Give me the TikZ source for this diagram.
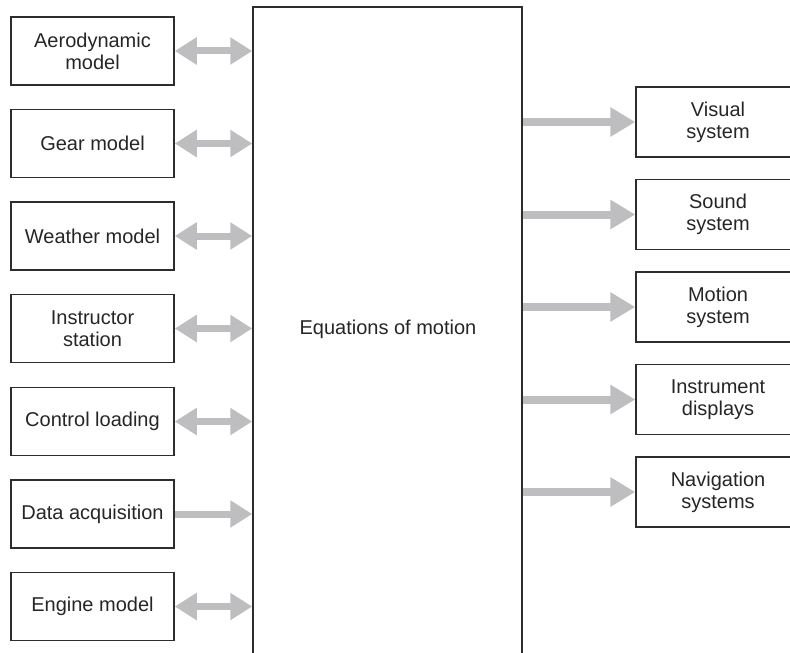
\documentclass[tikz,border=0pt]{standalone}
\usepackage{fontspec}
\setmainfont{Liberation Sans}
\usetikzlibrary{arrows.meta}

\definecolor{arrowgray}{RGB}{190,190,192}
\definecolor{boxline}{RGB}{45,45,45}

\begin{document}
\begin{tikzpicture}
	 [x=0.5pt, y=-0.5pt,
	every node/.style={font=\fontsize{10}{11}\selectfont, align=center, text=black!85},
	inbox/.style = {draw=boxline, line width=0.75pt, minimum width=81.5pt, minimum height=34pt, inner sep=0pt},
	outbox/.style = {draw=boxline, line width=0.75pt, minimum width=82pt, minimum height=35pt, inner sep=0pt},
	twoway/.style = {draw=arrowgray, line width=3.5pt, {Triangle[length=11pt,width=13pt]}-{Triangle[length=11pt,width=13pt]}},
	oneway/.style = {draw=arrowgray, line width=3.5pt, -{Triangle[length=11pt,width=13pt]}},
	outflow/.style = {draw=arrowgray, line width=4pt, -{Triangle[length=12.5pt,width=14pt]}}
	]
	\useasboundingbox (0,0) rectangle (790,652);
	\clip (0,0) rectangle (790,652);

	% central block, runs off the bottom
	\node[draw=boxline, line width=0.75pt, minimum width=134.5pt, minimum height=336.5pt] (eom) at (387.5,343.5) {};
	\node (eomtext) at (388,329) {Equations of motion};

	% inputs
	\node[inbox] (aero)   at (92.5,51)    {Aerodynamic\\model};
	\node[inbox] (gear)   at (92.5,143.5) {Gear model};
	\node[inbox] (wthr)   at (92.5,236)   {Weather model};
	\node[inbox] (instr)  at (92.5,328.5) {Instructor\\station};
	\node[inbox] (ctrl)   at (92.5,421.5) {Control loading};
	\node[inbox] (daq)    at (92.5,514)   {Data acquisition};
	\node[inbox] (engine) at (92.5,606.5) {Engine model};

	% outputs
	\node[outbox] (visual) at (718,122)   {Visual\\system};
	\node[outbox] (sound)  at (718,214.5) {Sound\\system};
	\node[outbox] (motion) at (718,307)   {Motion\\system};
	\node[outbox] (displ)  at (718,399.5) {Instrument\\displays};
	\node[outbox] (navsys) at (718,492)   {Navigation\\systems};

	\draw[twoway] (aero.east)   -- (aero.east -| eom.west);
	\draw[twoway] (gear.east)   -- (gear.east -| eom.west);
	\draw[twoway] (wthr.east)   -- (wthr.east -| eom.west);
	\draw[twoway] (instr.east)  -- (instr.east -| eom.west);
	\draw[twoway] (ctrl.east)   -- (ctrl.east -| eom.west);
	\draw[oneway] (daq.east)    -- (daq.east -| eom.west);
	\draw[twoway] (engine.east) -- (engine.east -| eom.west);

	\draw[outflow] (visual.west -| eom.east) -- (visual.west);
	\draw[outflow] (sound.west -| eom.east)  -- (sound.west);
	\draw[outflow] (motion.west -| eom.east) -- (motion.west);
	\draw[outflow] (displ.west -| eom.east)  -- (displ.west);
	\draw[outflow] (navsys.west -| eom.east) -- (navsys.west);
\end{tikzpicture}
\end{document}
